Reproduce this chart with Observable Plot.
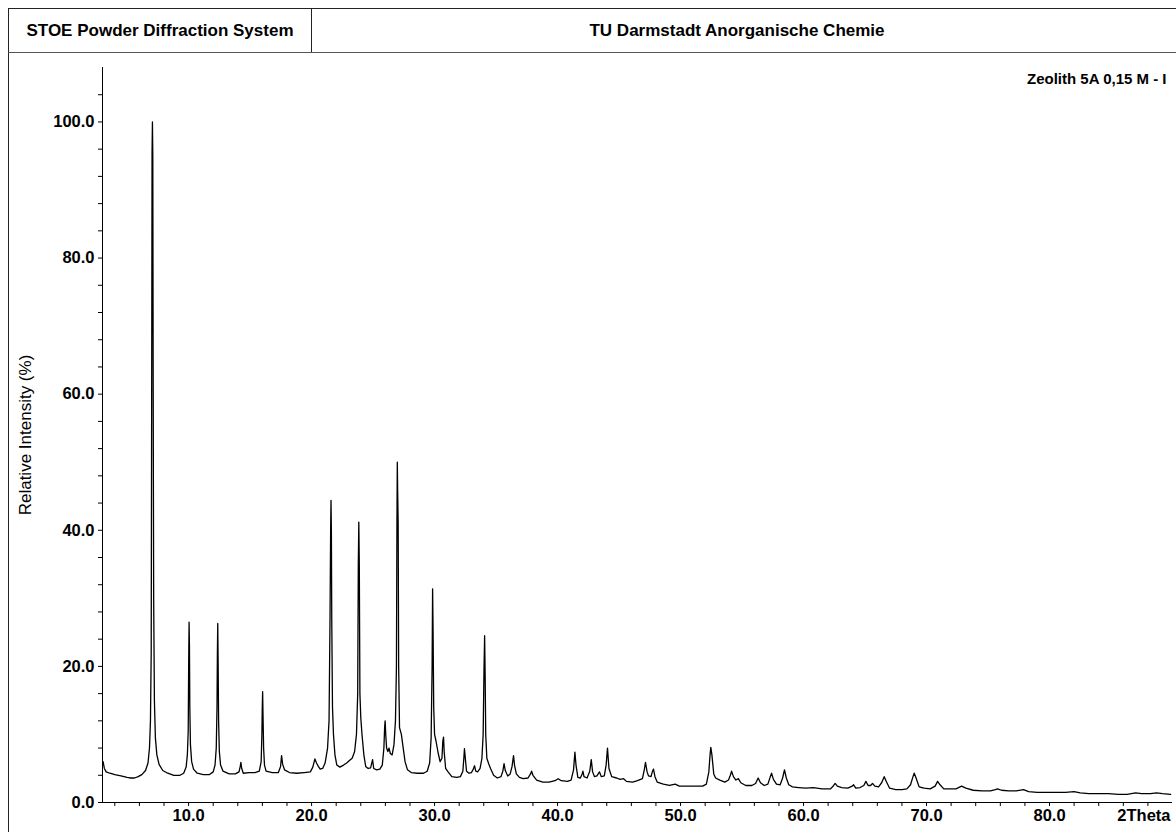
<!DOCTYPE html>
<html>
<head>
<meta charset="utf-8">
<script src="https://cdn.jsdelivr.net/npm/d3@7"></script>
<script src="https://cdn.jsdelivr.net/npm/@observablehq/plot@0.6"></script>
<style>
  html, body { margin: 0; padding: 0; background: #fff; }
  #wrap { position: relative; width: 1176px; height: 832px; overflow: hidden; font-family: "Liberation Sans", Arial, sans-serif; }
  .hdr { position: absolute; font-weight: bold; font-size: 17px; color: #000; line-height: 1; white-space: nowrap; }
  #ylab { position: absolute; left: 26px; top: 435px; transform: translate(-50%, -50%) rotate(-90deg); font-size: 17px; white-space: nowrap; color: #000; }
  #chart { position: absolute; left: 0; top: 52px; }
  .line { position: absolute; background: #222; z-index: 2; }
</style>
</head>
<body>
<div id="wrap">
  <div class="line" style="left:8px; top:8px; width:1168px; height:1px;"></div>
  <div class="line" style="left:8px; top:8px; width:1px; height:824px;"></div>
  <div class="line" style="left:311px; top:8px; width:1px; height:44px;"></div>
  <div class="line" style="left:8px; top:52px; width:1168px; height:1px; background:#555;"></div>
  <div class="hdr" style="left:160px; top:30px; transform:translate(-50%,-50%);">STOE Powder Diffraction System</div>
  <div class="hdr" style="left:737px; top:30px; transform:translate(-50%,-50%);">TU Darmstadt Anorganische Chemie</div>
  <div id="ylab">Relative Intensity (%)</div>
  <div id="chart"></div>
</div>
<script>
const sampleName = "Zeolith 5A 0,15 M - I";
const xAxisName = "2Theta";
const xLabelTicks = [10, 20, 30, 40, 50, 60, 70, 80];
const yLabelTicks = [0, 20, 40, 60, 80, 100];

const twoTheta = [
  3.00, 3.05, 3.15, 3.3, 3.6, 4.0, 4.5, 5.0, 5.3, 5.6, 5.9, 6.2, 6.5, 6.7, 6.82, 6.9, 6.96, 7.0, 7.03, 7.06, 7.09, 7.12, 7.16, 7.22, 7.3, 7.42, 7.6, 7.9, 8.3, 8.8, 9.3, 9.6, 9.8, 9.9, 9.97, 10.01, 10.04, 10.07, 10.1, 10.15, 10.25, 10.4, 10.7, 11.2, 11.7, 12.0, 12.15, 12.25, 12.31, 12.34, 12.37, 12.4, 12.44, 12.5, 12.6, 12.8, 13.3, 13.8, 14.1, 14.2, 14.25, 14.32, 14.45, 14.9, 15.4, 15.75, 15.9, 15.96, 15.99, 16.02, 16.05, 16.1, 16.17, 16.3, 16.8, 17.3, 17.48, 17.56, 17.65, 17.8, 18.2, 18.8, 19.4, 19.9,
  20.1, 20.27, 20.4, 20.55, 20.7, 20.9, 21.1, 21.3, 21.42, 21.5, 21.55, 21.58, 21.61, 21.64, 21.7, 21.78, 21.9, 22.05, 22.3, 22.6, 22.85, 23.1, 23.3, 23.5, 23.65, 23.75, 23.8, 23.84, 23.88, 23.93, 24.0, 24.1, 24.25, 24.4, 24.6, 24.8, 24.96, 25.05, 25.3, 25.55, 25.75, 25.88, 25.94, 25.98, 26.03, 26.1, 26.2, 26.3, 26.4, 26.55, 26.7, 26.82, 26.9, 26.94, 26.97, 27.0, 27.04, 27.08, 27.15, 27.3, 27.45, 27.6, 27.8, 28.1, 28.6, 29.1, 29.4, 29.6, 29.72, 29.8, 29.84, 29.88, 29.93, 30.0, 30.12, 30.3, 30.45, 30.6, 30.67, 30.73, 30.78, 30.9, 31.1, 31.4, 31.8, 32.1, 32.3, 32.38, 32.43, 32.5, 32.6, 32.8, 33.0, 33.15, 33.25, 33.35, 33.5, 33.7, 33.85, 33.95, 34.02, 34.07, 34.11, 34.16, 34.25, 34.4, 34.55, 34.8, 35.1, 35.4, 35.55, 35.65, 35.75, 35.95, 36.15, 36.3, 36.42, 36.5, 36.65, 36.9, 37.2, 37.6, 37.8, 37.89, 38.0, 38.3, 38.8, 39.3, 39.8,
  40.05, 40.3, 40.8, 41.1, 41.3, 41.41, 41.5, 41.65, 41.85, 42.0, 42.06, 42.15, 42.4, 42.62, 42.74, 42.85, 43.0, 43.2, 43.41, 43.55, 43.8, 43.95, 44.06, 44.18, 44.4, 44.8, 45.1, 45.37, 45.6, 46.1, 46.5, 46.9, 47.05, 47.15, 47.28, 47.4, 47.6, 47.72, 47.8, 47.92, 48.1, 48.6, 49.1, 49.56, 49.9, 50.5, 51.2, 51.8, 52.1, 52.3, 52.4, 52.46, 52.55, 52.7, 52.85, 53.2, 53.6, 53.9, 54.05, 54.15, 54.3, 54.5, 54.7, 54.9, 55.3, 55.8, 56.1, 56.31, 56.5, 56.8, 57.1, 57.3, 57.4, 57.55, 57.8, 58.1, 58.3, 58.45, 58.6, 58.8, 59.1, 59.6,
  60.2, 60.8, 61.5, 62.2, 62.45, 62.57, 62.75, 63.1, 63.6, 63.95, 64.07, 64.25, 64.6, 64.9, 65.07, 65.25, 65.45, 65.61, 65.8, 66.1, 66.35, 66.56, 66.75, 67.0, 67.5, 68.0, 68.4, 68.7, 68.9, 69.0, 69.15, 69.4, 69.8, 70.3, 70.7, 70.9, 71.1, 71.4, 71.9, 72.4, 72.85, 73.2, 73.8, 74.5, 75.2, 75.6, 75.77, 76.1, 76.7, 77.3, 77.89, 78.3, 79.0, 79.8, 80.5, 81.3, 82.0, 82.5, 83.2, 84.0, 84.8, 85.6, 86.3, 87.0, 87.5, 88.2, 88.7, 89.2, 89.85
];
const intensity = [
  5.9, 6.0, 5.0, 4.5, 4.3, 4.1, 3.9, 3.7, 3.6, 3.6, 3.8, 4.1, 4.7, 5.8, 8.0, 12, 22, 62, 95.5, 100, 95, 62, 30, 15, 9.5, 7.0, 5.6, 4.7, 4.3, 4.0, 4.0, 4.3, 5.2, 7.0, 10.5, 21, 26.5, 23, 14, 8.5, 6.0, 4.9, 4.3, 4.1, 4.1, 4.5, 5.5, 8, 14, 21.6, 26.3, 21, 12, 7.5, 5.5, 4.6, 4.2, 4.2, 4.5, 5.3, 5.9, 5.0, 4.3, 4.4, 4.4, 4.6, 6.0, 10, 13.8, 16.3, 13, 8, 5.5, 4.6, 4.4, 4.4, 5.3, 6.9, 5.6, 4.8, 4.4, 4.3, 4.4, 4.5,
  5.2, 6.4, 5.8, 5.3, 4.9, 5.0, 5.8, 8, 12, 27.2, 40, 44.4, 40, 27, 14, 10, 7, 5.5, 5.2, 5.5, 5.8, 6.2, 6.5, 7.5, 10, 16, 35, 41.2, 35, 16, 12.5, 10, 7, 5.3, 5.0, 5.1, 6.3, 5.0, 4.8, 4.9, 5.5, 8, 11, 12.0, 10, 8, 7.5, 8.0, 7.2, 7.0, 8.5, 12, 20, 41, 50, 45.6, 41, 20, 11, 10, 8, 6, 4.8, 4.4, 4.3, 4.3, 4.6, 5.8, 9.5, 20, 31.4, 25, 14, 10, 9.0, 7.2, 6.0, 6.5, 9.0, 9.6, 7.5, 5.0, 4.5, 3.8, 3.7, 3.8, 4.6, 6.5, 7.9, 6.5, 4.6, 4.3, 4.4, 4.9, 5.4, 4.6, 4.5, 5.0, 6.5, 10, 19.6, 24.5, 19, 10, 6.5, 5.7, 5.0, 4.0, 3.6, 3.8, 4.6, 5.7, 4.7, 3.9, 4.2, 5.3, 6.9, 5.5, 4.2, 3.7, 3.5, 3.6, 4.2, 4.6, 4.0, 3.3, 3.0, 3.0, 3.2,
  3.5, 3.2, 3.1, 3.3, 4.8, 7.4, 5.5, 3.7, 3.6, 4.2, 4.6, 3.8, 3.6, 4.6, 6.3, 4.5, 3.8, 3.9, 4.5, 3.8, 3.9, 5.5, 8.0, 5.0, 3.8, 3.6, 3.4, 3.5, 3.1, 3.0, 3.2, 3.5, 4.8, 5.9, 4.5, 3.9, 3.8, 4.6, 4.9, 3.8, 3.0, 2.7, 2.5, 2.7, 2.4, 2.4, 2.4, 2.4, 2.7, 4.5, 7.0, 8.1, 7.0, 4.2, 3.6, 3.3, 3.0, 3.3, 4.0, 4.6, 3.8, 3.3, 3.5, 2.9, 2.5, 2.5, 2.8, 3.6, 2.9, 2.5, 2.7, 3.8, 4.3, 3.4, 2.7, 2.6, 3.6, 4.8, 3.6, 2.6, 2.3, 2.2,
  2.1, 2.2, 2.0, 2.0, 2.5, 2.8, 2.4, 2.2, 2.1, 2.4, 2.6, 2.1, 2.2, 2.5, 3.1, 2.5, 2.5, 2.8, 2.4, 2.3, 2.9, 3.8, 3.0, 2.1, 1.9, 1.9, 2.0, 2.6, 3.8, 4.3, 3.6, 2.3, 2.1, 2.0, 2.4, 3.1, 2.6, 2.0, 2.0, 2.0, 2.4, 2.1, 1.8, 1.7, 1.7, 1.9, 2.0, 1.8, 1.7, 1.7, 1.9, 1.6, 1.5, 1.5, 1.5, 1.5, 1.6, 1.4, 1.3, 1.3, 1.3, 1.2, 1.2, 1.4, 1.3, 1.3, 1.4, 1.3, 1.2
];

const data = twoTheta.map((t, i) => ({t, v: intensity[i]}));

const chart = Plot.plot({
  width: 1176,
  height: 780,
  marginLeft: 102,
  marginRight: 4,
  marginTop: 15,
  marginBottom: 30,
  style: {fontFamily: "'Liberation Sans', Arial, sans-serif", fontSize: "16.5px", fontWeight: "bold", color: "#000", background: "transparent", overflow: "visible"},
  x: {domain: [3, 90]},
  y: {domain: [0, 108]},
  marks: [
    Plot.axisX({ticks: d3.range(4, 90, 2), tickSize: 4, tickPadding: 3, label: null,
      tickFormat: d => xLabelTicks.includes(d) ? d.toFixed(1) : ""}),
    Plot.axisY({ticks: d3.range(0, 108, 4), tickSize: 4, tickPadding: 4, label: null,
      tickFormat: d => yLabelTicks.includes(d) ? d.toFixed(1) : ""}),
    Plot.ruleX([3], {y1: 0, y2: 108, stroke: "#000"}),
    Plot.ruleY([0], {stroke: "#000"}),
    Plot.line(data, {x: "t", y: "v", stroke: "#000", strokeWidth: 1.3}),
    Plot.text([sampleName], {frameAnchor: "top-right", dx: -6, dy: 6, lineAnchor: "top", fill: "#000", fontSize: 15}),
    Plot.text([xAxisName], {x: 90, y: 0, textAnchor: "end", lineAnchor: "top", dy: 7, dx: -2, fill: "#000"})
  ]
});
document.getElementById("chart").appendChild(chart);
</script>
</body>
</html>
